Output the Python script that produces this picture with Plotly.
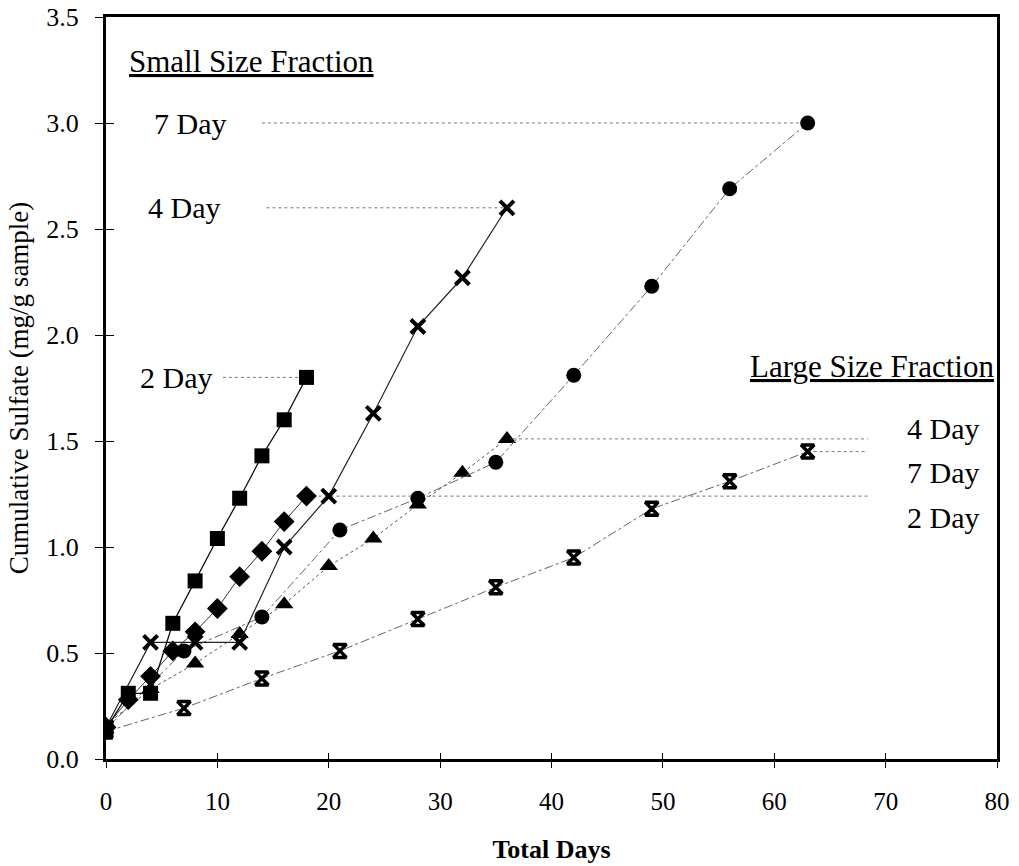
import plotly.graph_objects as go

# ---- data ----
small_2day_x = [0, 2, 4, 6, 8, 10, 12, 14, 16, 18]
small_2day_y = [0.14, 0.31, 0.31, 0.64, 0.84, 1.04, 1.23, 1.43, 1.60, 1.80]

small_4day_x = [0, 4, 8, 12, 16, 20, 24, 28, 32, 36]
small_4day_y = [0.15, 0.55, 0.55, 0.55, 1.00, 1.24, 1.63, 2.04, 2.27, 2.60]

small_7day_x = [0, 7, 14, 21, 28, 35, 42, 49, 56, 63]
small_7day_y = [0.14, 0.51, 0.67, 1.08, 1.23, 1.40, 1.81, 2.23, 2.69, 3.00]

large_2day_x = [0, 2, 4, 6, 8, 10, 12, 14, 16, 18]
large_2day_y = [0.15, 0.28, 0.39, 0.51, 0.60, 0.71, 0.86, 0.98, 1.12, 1.24]

large_4day_x = [0, 4, 8, 12, 16, 20, 24, 28, 32, 36]
large_4day_y = [0.16, 0.33, 0.45, 0.59, 0.73, 0.91, 1.04, 1.20, 1.35, 1.51]

large_7day_x = [0, 7, 14, 21, 28, 35, 42, 49, 56, 63]
large_7day_y = [0.13, 0.24, 0.38, 0.51, 0.66, 0.81, 0.95, 1.18, 1.31, 1.45]

# leader lines (label -> last point)
small_leader_start = [14.0, 14.4, 10.5]
small_leader_end = [63, 36, 18]
small_leader_y = [3.00, 2.60, 1.80]
large_leader_start = [36, 63, 18]
large_leader_end = [68.4, 68.4, 68.4]
large_leader_y = [1.51, 1.45, 1.24]

x_ticks = [0, 10, 20, 30, 40, 50, 60, 70, 80]
y_ticks = [0.0, 0.5, 1.0, 1.5, 2.0, 2.5, 3.0, 3.5]
y_tick_labels = ["0.0", "0.5", "1.0", "1.5", "2.0", "2.5", "3.0", "3.5"]

FONT = "Liberation Serif"

fig = go.Figure()

# leader lines
for xs, xe, y in zip(small_leader_start + large_leader_start,
                     small_leader_end + large_leader_end,
                     small_leader_y + large_leader_y):
    fig.add_trace(go.Scatter(x=[xs, xe], y=[y, y], mode="lines",
                             line=dict(color="#777777", width=1, dash="dot"),
                             hoverinfo="skip", showlegend=False))

def series(x, y, symbol, size, dash, color, lw, mline=0):
    fig.add_trace(go.Scatter(
        x=x, y=y, mode="lines+markers",
        line=dict(color=color, width=lw, dash=dash),
        marker=dict(symbol=symbol, size=size, color="black",
                    line=dict(color="black", width=mline)),
        showlegend=False))

series(large_7day_x, large_7day_y, "hourglass-open", 13, "dashdot", "#666666", 1, 3.5)
series(large_4day_x, large_4day_y, "triangle-up", 16, "dot", "#555555", 1)
series(small_7day_x, small_7day_y, "circle", 15, "dashdot", "#666666", 1)
series(large_2day_x, large_2day_y, "diamond", 16, "solid", "#333333", 1)
series(small_4day_x, small_4day_y, "x-thin-open", 14, "solid", "#222222", 1.2, 4)
series(small_2day_x, small_2day_y, "square", 15, "solid", "#111111", 1.3)

ann_font = dict(family=FONT, size=30, color="black")
under_font = dict(family=FONT, size=31, color="black", lineposition="under")

annotations = [
    dict(x=1.9, y=3.29, text="Small Size Fraction", xanchor="left", font=under_font),
    dict(x=4.1, y=3.00, text="7 Day", xanchor="left", font=ann_font),
    dict(x=3.6, y=2.60, text="4 Day", xanchor="left", font=ann_font),
    dict(x=2.9, y=1.80, text="2 Day", xanchor="left", font=ann_font),
    dict(x=79.95, y=1.85, text="Large Size Fraction", xanchor="right", font=under_font),
    dict(x=71.7, y=1.56, text="4 Day", xanchor="left", font=ann_font),
    dict(x=71.7, y=1.35, text="7 Day", xanchor="left", font=ann_font),
    dict(x=71.7, y=1.14, text="2 Day", xanchor="left", font=ann_font),
]
for a in annotations:
    a.update(xref="x", yref="y", showarrow=False, yanchor="middle")

fig.update_layout(
    width=1019, height=866,
    margin=dict(l=106, r=22, t=17, b=107),
    paper_bgcolor="white", plot_bgcolor="white",
    font=dict(family=FONT, color="black"),
    annotations=annotations,
    xaxis=dict(range=[0, 80], tickvals=x_ticks, ticks="outside", ticklen=6,
               tickwidth=1, tickcolor="black", showgrid=False, zeroline=False,
               showline=True, linecolor="black", linewidth=3, mirror=True,
               tickfont=dict(family=FONT, size=25), ticklabelstandoff=12,
               automargin=False,
               title=dict(text="<b>Total Days</b>", font=dict(family=FONT, size=26),
                          standoff=26)),
    yaxis=dict(range=[0, 3.5], tickvals=y_ticks, ticktext=y_tick_labels,
               ticks="outside", ticklen=8, tickwidth=1, tickcolor="black",
               showgrid=False, zeroline=False, showline=True, linecolor="black",
               linewidth=3, mirror=True, tickfont=dict(family=FONT, size=26),
               ticklabelstandoff=11, automargin=False,
               title=dict(text="Cumulative Sulfate (mg/g sample)",
                          font=dict(family=FONT, size=27), standoff=10)),
    xaxis2=dict(range=[0, 80], tickvals=x_ticks, ticks="inside", ticklen=6,
                tickcolor="black", overlaying="x", matches="x", showticklabels=False,
                showgrid=False, zeroline=False, side="bottom", automargin=False),
    yaxis2=dict(range=[0, 3.5], tickvals=y_ticks, ticks="inside", ticklen=8,
                tickcolor="black", overlaying="y", matches="y", showticklabels=False,
                showgrid=False, zeroline=False, side="left", automargin=False),
)
# invisible trace to activate the overlay axes for inside tick marks
fig.add_trace(go.Scatter(x=[small_2day_x[0]], y=[small_2day_y[0]], xaxis="x2", yaxis="y2",
                         mode="markers", marker=dict(opacity=0), hoverinfo="skip",
                         showlegend=False))

fig.write_html("out.html", config={"displayModeBar": False},
               post_script="document.body.style.margin='0px';document.body.style.overflow='hidden';")
